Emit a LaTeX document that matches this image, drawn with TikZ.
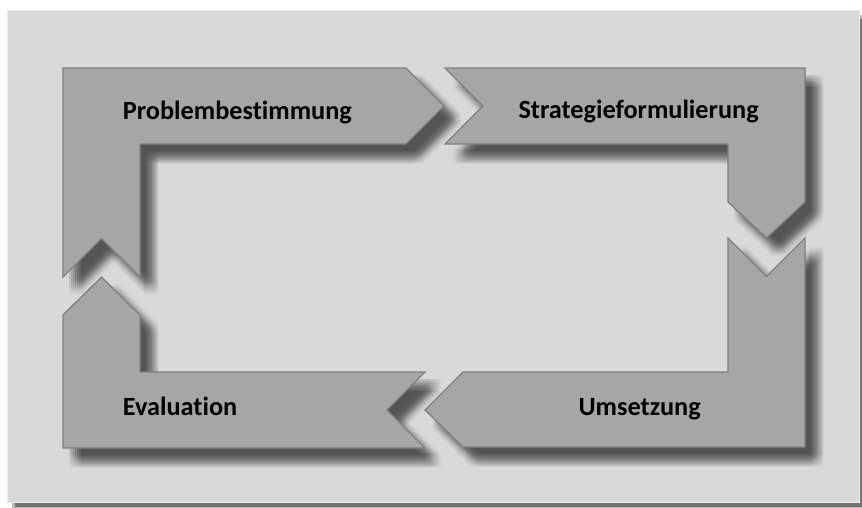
\documentclass[tikz,border=0pt]{standalone}
\usepackage{fontspec}
\setmainfont[Ligatures={NoCommon}]{Carlito}
\definecolor{bgc}{HTML}{D9D9D9}
\definecolor{shapec}{HTML}{A6A6A6}
\definecolor{edgec}{HTML}{808080}
\definecolor{pageshadow}{HTML}{747474}
\tikzset{
  arrowshape/.style={fill=shapec, draw=edgec, line width=1.3pt, line join=miter},
  lbl/.style={inner sep=0pt, font=\fontsize{26.3}{31}\selectfont\bfseries, text=black},
}
\newcommand\softshadow[1]{%
  \foreach \dx in {-6,-4,-2,0,2,4,6} {%
    \foreach \dy in {-6,-4,-2,0,2,4,6} {%
      \begin{scope}[shift={(12+\dx,13+\dy)}]
        \fill[black, opacity=0.017] #1 -- cycle;
      \end{scope}}}}
\begin{document}
\begin{tikzpicture}[x=1pt,y=-1pt]
\useasboundingbox (0,0) rectangle (862,507);
\fill[white] (0,0) rectangle (862,507);
% page shadow
\fill[pageshadow, opacity=0.5] (12,15) rectangle (863,508);
\fill[pageshadow] (15,19) rectangle (862,507);
\fill[bgc] (7,10) rectangle (859,502);
\draw[white!50!bgc, line width=0.8pt] (7,10) rectangle (859,502);
% shadows
\softshadow{(63,68) -- (406,68) -- (444,106) -- (406,144) -- (140,144) -- (140,277) -- (101.5,238.5) -- (63,277)}
\softshadow{(445,68) -- (805,68) -- (805,202) -- (766.5,238) -- (728,202) -- (728,144) -- (445,144) -- (483,106)}
\softshadow{(728,238) -- (766.5,276.5) -- (805,238) -- (805,447) -- (463,447) -- (425,410) -- (463,372) -- (728,372)}
\softshadow{(101.5,277) -- (140,315) -- (140,372) -- (425,372) -- (387,410) -- (425,448) -- (63,448) -- (63,315)}
% shapes
\draw[arrowshape] (63,68) -- (406,68) -- (444,106) -- (406,144) -- (140,144) -- (140,277) -- (101.5,238.5) -- (63,277) -- cycle;
\draw[arrowshape] (445,68) -- (805,68) -- (805,202) -- (766.5,238) -- (728,202) -- (728,144) -- (445,144) -- (483,106) -- cycle;
\draw[arrowshape] (728,238) -- (766.5,276.5) -- (805,238) -- (805,447) -- (463,447) -- (425,410) -- (463,372) -- (728,372) -- cycle;
\draw[arrowshape] (101.5,277) -- (140,315) -- (140,372) -- (425,372) -- (387,410) -- (425,448) -- (63,448) -- (63,315) -- cycle;
% labels
\node[lbl, anchor=base west] (pb) at (122.7,119.3) {Problembestimmung};
\node[lbl, anchor=base west] (sf) at (518.3,118.3) {Strategieformulierung};
\node[lbl, anchor=base west] (um) at (578.3,415) {Umsetzung};
\node[lbl, anchor=base west] (ev) at (122.7,415) {Evaluation};
\end{tikzpicture}
\end{document}
